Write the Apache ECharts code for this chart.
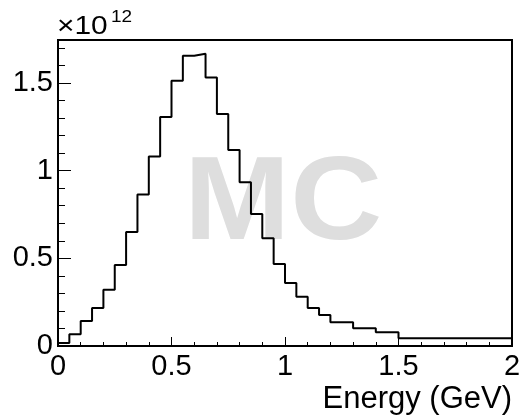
<!DOCTYPE html>
<html>
<head>
<meta charset="utf-8">
<script src="https://cdn.jsdelivr.net/npm/echarts@6/dist/echarts.min.js"></script>
<style>html,body{margin:0;padding:0;background:#fff}#c{width:520px;height:418px}</style>
</head>
<body>
<div id="c"></div>
<script>
// Bin edges (GeV) — variable width bins
var binEdges = [0,0.05,0.1,0.15,0.2,0.25,0.3,0.35,0.4,0.45,0.5,0.55,0.6,0.65,0.7,0.75,0.8,0.85,0.9,0.95,1.0,1.05,1.1,1.15,1.2,1.3,1.4,1.5,2.0];
// Bin contents in units of 1e12
var binCounts = [0.017,0.067,0.143,0.217,0.321,0.462,0.650,0.864,1.080,1.306,1.512,1.655,1.666,1.531,1.323,1.118,0.934,0.753,0.614,0.468,0.359,0.281,0.217,0.177,0.135,0.101,0.078,0.044];
var scaleFactor = 1e12;
var xTickLabels = ["0","0.5","1","1.5","2"];
var yTickLabels = ["0","0.5","1","1.5"];
var xTitle = "Energy (GeV)";
var watermark = "MC";
var multiplierBase = "\u00d710";
var multiplierExp = "12";

var stepData = [];
for (var i = 0; i < binCounts.length; i++) stepData.push([binEdges[i], binCounts[i]*scaleFactor]);
stepData.push([binEdges[binEdges.length-1], binCounts[binCounts.length-1]*scaleFactor]);

var FONT = "'Liberation Sans', Arial, Helvetica, sans-serif";
var yMax = 1.745e12;

var chart = echarts.init(document.getElementById('c'), null, {renderer:'canvas'});
chart.setOption({
  animation: false,
  backgroundColor: '#fff',
  grid: {left: 58, right: 8, top: 40, bottom: 72, show: true, borderColor: '#000', borderWidth: 2, containLabel: false, outerBoundsMode: 'none'},
  graphic: [
    {type:'text', z: 0, x: 184, y: 147, scaleX: 1.08, style:{text: watermark, fontSize: 118, fontWeight: 'bold', fontFamily: FONT, fill: '#dedede'}},
    {type:'text', x: 512, y: 384, style:{text: xTitle, fontSize: 31, fontFamily: FONT, fill:'#000', textAlign: 'right'}},
    {type:'text', x: 57, y: 14, scaleX: 1.15, style:{text: multiplierBase, fontSize: 26, fontFamily: FONT, fill:'#000'}},
    {type:'text', x: 111, y: 9, scaleX: 1.15, style:{text: multiplierExp, fontSize: 16.5, fontFamily: FONT, fill:'#000'}}
  ],
  xAxis: {
    type: 'value', min: 0, max: 2, interval: 0.5,
    axisLine: {show: true, lineStyle: {color:'#000', width: 2}},
    axisTick: {show: true, inside: true, length: 9, lineStyle:{color:'#000', width:1}},
    minorTick: {show: true, splitNumber: 5, length: 4, lineStyle:{color:'#000', width:1}},
    splitLine: {show: false},
    axisLabel: {color:'#000', fontSize: 29, fontFamily: FONT, margin: 6,
      formatter: function(v){ var k = Math.round(v/0.5); return xTickLabels[k] !== undefined && Math.abs(v-k*0.5)<1e-9 ? xTickLabels[k] : ''; }}
  },
  yAxis: [{
    type: 'value', min: 0, max: yMax, interval: 0.5e12,
    axisLine: {show: true, lineStyle: {color:'#000', width: 2}},
    axisTick: {show: true, inside: true, length: 13, lineStyle:{color:'#000', width:1}},
    splitLine: {show: false},
    axisLabel: {color:'#000', fontSize: 29, fontFamily: FONT, margin: 5, showMaxLabel: false,
      formatter: function(v){ var k = Math.round(v/0.5e12); return Math.abs(v-k*0.5e12)<1 && yTickLabels[k] !== undefined ? yTickLabels[k] : ''; }}
  },{
    type: 'value', min: 0, max: yMax, interval: 0.1e12, position: 'left',
    axisLine: {show: false},
    axisTick: {show: true, inside: true, length: 7, lineStyle:{color:'#000', width:1}},
    splitLine: {show: false},
    axisLabel: {show: false}
  }],
  series: [{
    type: 'line', step: 'end', data: stepData, yAxisIndex: 0,
    symbol: 'none', z: 5,
    lineStyle: {color:'#000', width: 2}
  }]
});
</script>
</body>
</html>
